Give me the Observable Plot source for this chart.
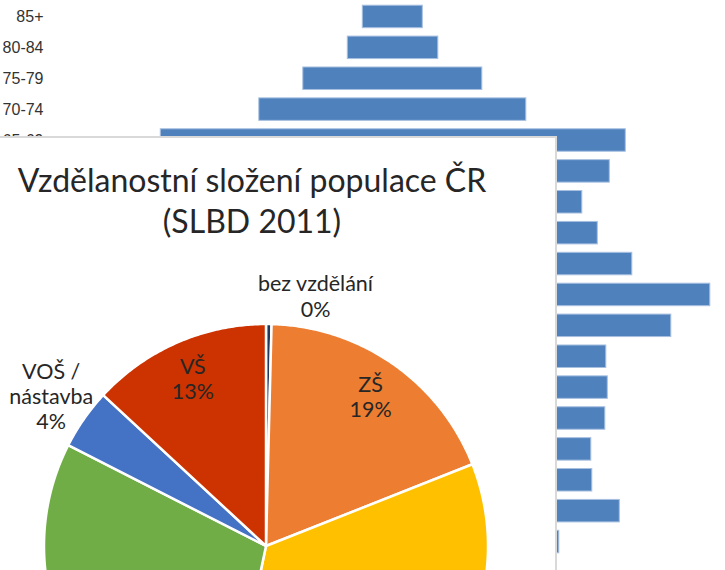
<!DOCTYPE html>
<html>
<head>
<meta charset="utf-8">
<script src="https://cdn.jsdelivr.net/npm/d3@7"></script>
<script src="https://cdn.jsdelivr.net/npm/@observablehq/plot@0.6"></script>
<style>
  html, body { margin: 0; padding: 0; background: #fff; }
  #stage { position: relative; width: 725px; height: 570px; overflow: hidden; background: #fff; }
  #pyramid, #pie { position: absolute; }
  #pyramid { left: 0; top: 0; }
  #panel { position: absolute; left: -5px; top: 136px; width: 562px; height: 460px; box-sizing: border-box;
           background: #fff; border-top: 2px solid #d9d9d9; border-right: 2px solid #d9d9d9; }
  #title { position: absolute; left: 0; width: 504px; top: 159px; text-align: center;
           font-family: Lato, "Noto Sans", sans-serif; font-size: 32px; line-height: 41px; color: #262626; }
  #pie { left: 0; top: 138px; }
</style>
</head>
<body>
<div id="stage">
  <div id="pyramid"></div>
  <div id="panel"></div>
  <div id="title"></div>
  <div id="pie"></div>
</div>
<script>
// ---------- background chart: population pyramid ----------
const ageGroups = ["85+", "80-84", "75-79", "70-74", "65-69", "60-64", "55-59", "50-54", "45-49",
                   "40-44", "35-39", "30-34", "25-29", "20-24", "15-19", "10-14", "5-9", "0-4"];
// left half (men) – only the top rows are visible, the rest is assumed to mirror the right half
const menValues = [30, 45, 89.5, 133.5, 232, 217, 189.5, 205, 239.5, 317.5, 278.5, 213.5, 215, 212.5, 198.5, 199.5, 227, 166.5];
// right half (women)
const womenValues = [30, 45.5, 89.5, 133.5, 233, 217, 189.5, 205, 239.5, 317.5, 278.5, 213.5, 215, 212.5, 198.5, 199.5, 227, 166.5];

// ---------- foreground chart: education pie ----------
const titleLines = ["Vzdělanostní složení populace ČR", "(SLBD 2011)"];
const eduCategories = ["bez vzdělání", "ZŠ", "SŠ bez maturity", "SŠ s maturitou", "VOŠ /\nnástavba", "VŠ"];
const eduShares = [0.4, 18.6, 34.3, 29.2, 4.4, 13.1];

// styles / layout (not data)
const eduColors = ["#22375e", "#ED7D31", "#FFC000", "#70AD47", "#4472C4", "#CC3300"];
const labelLayout = [
  {r: 1.148, angle: 11.2}, // outside, above
  {r: 0.823}, {r: 0.823}, {r: 0.823},
  {r: 1.18},               // outside, left
  {r: 0.824}
];

// ---- pyramid ----
const pyrRows = ageGroups.map((g, i) => ({age: g, men: menValues[i], women: womenValues[i]}));
const pyramid = Plot.plot({
  width: 725, height: 570,
  marginLeft: 48, marginRight: 0, marginTop: 1, marginBottom: 13,
  x: {domain: [-344.3, 332.7], axis: null},
  y: {domain: ageGroups, padding: 0, round: false, label: null, axis: null},
  style: {fontFamily: '"Liberation Sans", Arial, sans-serif', fontSize: "16px", color: "#333", background: "#fff"},
  marks: [
    Plot.barX(pyrRows, {x1: d => -d.men, x2: d => d.women, y: "age", fill: "#4F81BD",
      stroke: "#a8c0e0", strokeWidth: 1, insetTop: 4.2, insetBottom: 4.2}),
    Plot.axisY({tickSize: 0, tickPadding: 5, label: null, fontSize: 16, fill: "#333", ariaLabel: "age-labels"})
  ]
});
// the background chart's labels are horizontally condensed: squeeze them toward their right edge
pyramid.querySelectorAll('g[aria-label="age-labels"], g[aria-label="y-axis tick label"]').forEach(g => {
  const t = g.getAttribute("transform") || "";
  g.setAttribute("transform", `translate(43 0) scale(0.82 1) translate(-43 0) ${t}`);
});
document.getElementById("pyramid").append(pyramid);

// ---- title ----
document.getElementById("title").innerHTML = titleLines.map(t => `<div>${t}</div>`).join("");

// ---- pie ----
const eduRows = eduCategories.map((c, i) => ({cat: c, share: eduShares[i], color: eduColors[i], layout: labelLayout[i]}));
const arcs = d3.pie().sort(null).value(d => d.share)(eduRows);
const sliceMarks = arcs.map(a => {
  const n = Math.max(2, Math.ceil((a.endAngle - a.startAngle) / (Math.PI / 360)));
  const pts = [{x: 0, y: 0}];
  for (let k = 0; k <= n; k++) {
    const t = a.startAngle + (a.endAngle - a.startAngle) * k / n;
    pts.push({x: Math.sin(t), y: Math.cos(t)});
  }
  pts.push({x: 0, y: 0});
  return Plot.line(pts, {x: "x", y: "y", fill: a.data.color, stroke: "white", strokeWidth: 2.5, curve: "linear"});
});
const labels = arcs.map(a => {
  const L = a.data.layout;
  const ang = L.angle != null ? L.angle * Math.PI / 180 : (a.startAngle + a.endAngle) / 2;
  return {x: Math.sin(ang) * L.r, y: Math.cos(ang) * L.r, text: `${a.data.cat}\n${Math.round(a.data.share)}%`};
});

const R = 222, cx = 265.5, cy = 407.5, W = 555, H = 432;
const pie = Plot.plot({
  width: W, height: H, margin: 0,
  x: {domain: [-cx / R, (W - cx) / R], axis: null},
  y: {domain: [-(H - cy) / R, cy / R], axis: null},
  style: {background: "transparent", overflow: "visible"},
  marks: [
    ...sliceMarks,
    Plot.text(labels, {x: "x", y: "y", text: "text", fontFamily: "Lato, 'Noto Sans', sans-serif",
      fontSize: 21.5, lineHeight: 1.17, fill: "#262626", lineAnchor: "middle"})
  ]
});
document.getElementById("pie").append(pie);
</script>
</body>
</html>
